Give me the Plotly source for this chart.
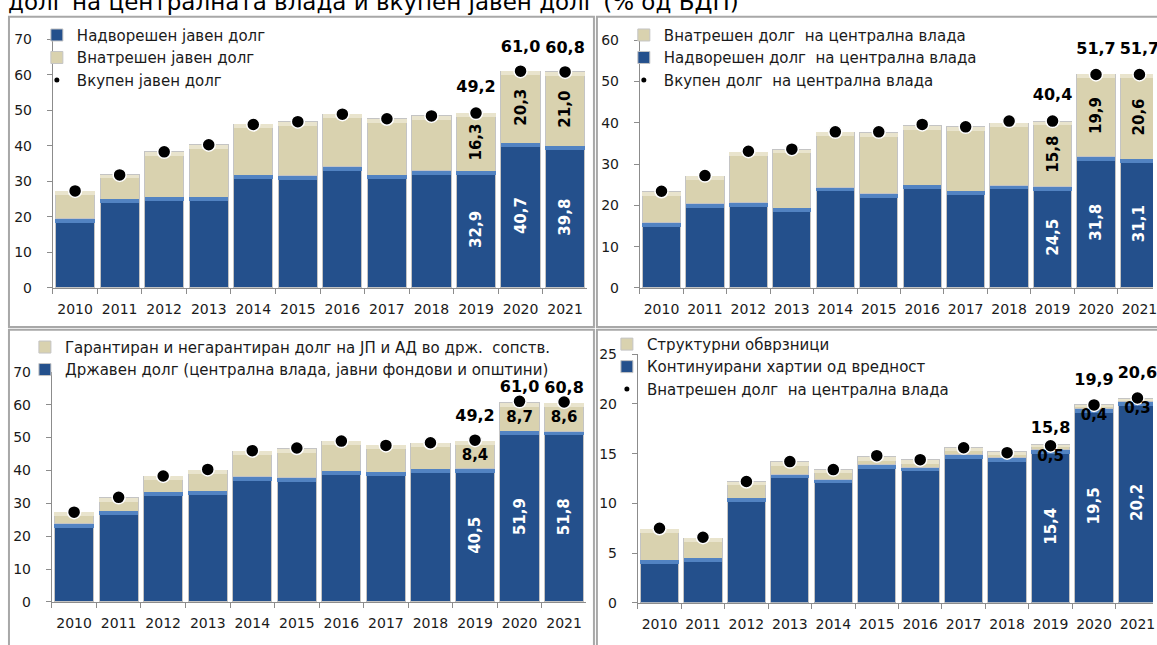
"""Public debt / central government debt of N. Macedonia, 2010-2021 (% of GDP) - four stacked bar panels."""
import plotly.graph_objects as go

W, H = 1157, 645
FONT = "DejaVu Sans"
BLUE = "#24508C"
BLUE_HI = "#5283C2"
BEIGE = "#D9D2AF"
BEIGE_HI = "#E9E4CD"
EDGE = "#C4C4C4"
AXIS = "#8C8C8C"
FRAME = "#A8A8A8"

years = [str(y) for y in range(2010, 2022)]

# panel 1 - public debt split external / domestic
pub_external = [19.4, 25.0, 25.5, 25.5, 31.7, 31.6, 34.1, 31.7, 33.0, 32.9, 40.7, 39.8]
pub_domestic = [7.8, 6.9, 12.8, 14.8, 14.3, 15.2, 14.8, 15.9, 15.4, 16.3, 20.3, 21.0]
pub_total = [27.3, 31.8, 38.3, 40.3, 46.0, 46.8, 48.9, 47.6, 48.4, 49.2, 61.0, 60.8]

# panel 2 - central government debt split domestic / external
cg_external = [15.8, 20.4, 20.6, 19.3, 24.3, 22.8, 24.9, 23.4, 24.8, 24.5, 31.8, 31.1]
cg_domestic = [7.5, 6.6, 12.2, 14.2, 13.4, 14.8, 14.4, 15.6, 15.1, 15.8, 19.9, 20.6]
cg_total = [23.4, 27.2, 33.1, 33.6, 37.8, 37.8, 39.6, 39.0, 40.4, 40.4, 51.7, 51.7]

# panel 3 - public debt split state debt / public enterprises
state_debt = [23.7, 27.5, 33.4, 33.6, 38.1, 37.8, 39.7, 39.4, 40.4, 40.5, 51.9, 51.8]
enterprise_debt = [3.5, 4.2, 4.8, 6.5, 7.7, 8.8, 9.1, 8.2, 7.8, 8.4, 8.7, 8.6]

# panel 4 - domestic central government debt split
continuous_sec = [4.3, 4.5, 10.5, 12.9, 12.4, 13.9, 13.6, 14.9, 14.6, 15.4, 19.5, 20.2]
structural_bonds = [3.1, 2.0, 1.7, 1.3, 1.0, 0.8, 0.8, 0.7, 0.6, 0.5, 0.4, 0.3]

LABELLED = 9  # only 2019-2021 carry value labels

# panel geometry in screen pixels: plot-area left/right, top/bottom, y max
panels = {
    "": dict(x=(53, 589), y=(32, 287), ymax=70, dtick=10, cat=44.7),
    "2": dict(x=(642, 1157), y=(33, 287), ymax=60, dtick=10, cat=43.6),
    "3": dict(x=(52, 588), y=(373, 609), ymax=70, dtick=10, cat=44.7),
    "4": dict(x=(640, 1157), y=(355, 610), ymax=25, dtick=5, cat=43.6),
}


def fmt(v):
    return f"{v:.1f}".replace(".", ",")


def last3(vals):
    return [f"<b>{fmt(v)}</b>" if i >= LABELLED else "" for i, v in enumerate(vals)]


def px_x(p):
    return p / W


def px_y(p):
    return 1 - p / H


def bar(vals, name, color, ax, legend, rank, angle=-90, tcolor="white", text=True):
    return go.Bar(
        x=years, y=vals, name=name, xaxis="x" + ax, yaxis="y" + ax,
        legend=legend, legendrank=rank, legendgroup=name,
        marker=dict(color=color, line=dict(color=EDGE, width=1)),
        text=last3(vals) if text else None, textposition="inside",
        insidetextanchor="middle", textangle=angle,
        textfont=dict(color=tcolor, size=15, family=FONT), hoverinfo="skip")


def bevel(bottoms, vals, ax, color, px=4):
    # light strip along the top of each segment, like the Excel bevel (base => drawn as overlay)
    p = panels[ax]
    unit = p["ymax"] / (p["y"][1] - p["y"][0])
    h = [min(px * unit, v * 0.5) for v in vals]
    tops = [b + v for b, v in zip(bottoms, vals)]
    return go.Bar(x=years, y=h, base=[t - d for t, d in zip(tops, h)], xaxis="x" + ax,
                  yaxis="y" + ax, marker=dict(color=color, line=dict(width=0)),
                  showlegend=False, hoverinfo="skip")


def dots(vals, ax):
    return go.Scatter(x=years, y=vals, xaxis="x" + ax, yaxis="y" + ax, mode="markers",
                      marker=dict(size=13, color="black", line=dict(color="white", width=1.5)),
                      showlegend=False, hoverinfo="skip")


def dot_key(name, ax, legend):
    # small legend-only proxy for the total marker
    return go.Scatter(x=[None], y=[None], xaxis="x" + ax, yaxis="y" + ax, mode="markers",
                      name=name, legend=legend, legendrank=3, legendgroup=name,
                      marker=dict(size=5, color="black"))


def lift_size(lift, fs=16):
    # invisible marker size that lifts a 'top center' label centre by `lift` px
    return max(1.6 * (lift - 0.61 * fs - 1), 0)


def top_labels(vals, ax, lifts):
    idx = list(range(LABELLED, len(years)))
    return go.Scatter(x=[years[i] for i in idx], y=[vals[i] for i in idx],
                      xaxis="x" + ax, yaxis="y" + ax, mode="markers+text",
                      text=[f"<b>{fmt(vals[i])}</b>" for i in idx], textposition="top center",
                      textfont=dict(family=FONT, size=16, color="black"),
                      marker=dict(size=[lift_size(v) for v in lifts], opacity=0),
                      cliponaxis=False, showlegend=False, hoverinfo="skip")


zeros = [0] * len(years)
fig = go.Figure()
# panel 1
fig.add_trace(bar(pub_external, "Надворешен јавен долг", BLUE, "", "legend", 1))
fig.add_trace(bar(pub_domestic, "Внатрешен јавен долг", BEIGE, "", "legend", 2, tcolor="black"))
fig.add_trace(bevel(zeros, pub_external, "", BLUE_HI))
fig.add_trace(bevel(pub_external, pub_domestic, "", BEIGE_HI))
fig.add_trace(dots(pub_total, ""))
fig.add_trace(dot_key("Вкупен јавен долг", "", "legend"))
fig.add_trace(top_labels(pub_total, "", [27, 25, 25]))
# panel 2
fig.add_trace(bar(cg_external, "Надворешен долг  на централна влада", BLUE, "2", "legend2", 2))
fig.add_trace(bar(cg_domestic, "Внатрешен долг  на централна влада", BEIGE, "2", "legend2", 1, tcolor="black"))
fig.add_trace(bevel(zeros, cg_external, "2", BLUE_HI))
fig.add_trace(bevel(cg_external, cg_domestic, "2", BEIGE_HI))
fig.add_trace(dots(cg_total, "2"))
fig.add_trace(dot_key("Вкупен долг  на централна влада", "2", "legend2"))
fig.add_trace(top_labels(cg_total, "2", [27, 26, 26]))
# panel 3
fig.add_trace(bar(state_debt, "Државен долг (централна влада, јавни фондови и општини)", BLUE, "3", "legend3", 2))
fig.add_trace(bar(enterprise_debt, "Гарантиран и негарантиран долг на ЈП и АД во држ.  сопств.", BEIGE, "3",
                  "legend3", 1, angle=0, tcolor="black"))
fig.add_trace(bevel(zeros, state_debt, "3", BLUE_HI))
fig.add_trace(bevel(state_debt, enterprise_debt, "3", BEIGE_HI))
fig.add_trace(dots(pub_total, "3"))
fig.add_trace(top_labels(pub_total, "3", [25, 15, 15]))
# panel 4
fig.add_trace(bar(continuous_sec, "Континуирани хартии од вредност", BLUE, "4", "legend4", 2))
fig.add_trace(bar(structural_bonds, "Структурни обврзници", BEIGE, "4", "legend4", 1, text=False))
fig.add_trace(bevel(zeros, continuous_sec, "4", BLUE_HI))
fig.add_trace(bevel(continuous_sec, structural_bonds, "4", BEIGE_HI))
fig.add_trace(dots(cg_domestic, "4"))
fig.add_trace(dot_key("Внатрешен долг  на централна влада", "4", "legend4"))
fig.add_trace(top_labels(cg_domestic, "4", [18, 26, 26]))
# structural bonds are too thin for inside text - hang the labels just under the segment
fig.add_trace(go.Scatter(
    x=years[LABELLED:], y=continuous_sec[LABELLED:], xaxis="x4", yaxis="y4", mode="text",
    text=last3(structural_bonds)[LABELLED:], textposition="bottom center",
    textfont=dict(family=FONT, size=15, color="black"), cliponaxis=False,
    showlegend=False, hoverinfo="skip"))

tickfont = dict(family=FONT, size=14, color="#1a1a1a")
for ax, p in panels.items():
    xr = -0.5 + (p["x"][1] - p["x"][0]) / p["cat"]
    fig.layout["xaxis" + ax] = dict(
        domain=[px_x(p["x"][0]), px_x(p["x"][1])], anchor="y" + ax, type="category",
        range=[-0.5, xr], tickson="boundaries", ticks="outside", ticklen=5, tickcolor=AXIS,
        tickangle=0, ticklabelstandoff=8, showline=True, linecolor=AXIS, showgrid=False,
        tickfont=tickfont, fixedrange=True)
    fig.layout["yaxis" + ax] = dict(
        domain=[px_y(p["y"][1]), px_y(p["y"][0])], anchor="x" + ax, range=[0, p["ymax"]],
        dtick=p["dtick"], ticks="outside", ticklen=5, tickcolor=AXIS, showline=True,
        ticklabelstandoff=12, linecolor=AXIS, showgrid=False, zeroline=False, tickfont=tickfont,
        fixedrange=True)

legend_base = dict(xanchor="left", yanchor="top", bgcolor="rgba(0,0,0,0)", traceorder="normal",
                   font=dict(family=FONT, size=15, color="#1a1a1a"), itemclick=False)
fig.update_layout(
    legend=dict(legend_base, x=px_x(37), y=px_y(11), tracegroupgap=0),
    legend2=dict(legend_base, x=px_x(626), y=px_y(11), tracegroupgap=0),
    legend3=dict(legend_base, x=px_x(25), y=px_y(331), tracegroupgap=1),
    legend4=dict(legend_base, x=px_x(609), y=px_y(328), tracegroupgap=0),
)

title = dict(x=px_x(6), y=px_y(9), xref="paper", yref="paper", xanchor="left",
             yanchor="bottom", showarrow=False,
             text="долг на централната влада и вкупен јавен долг (% од БДП)",
             font=dict(family=FONT, size=23, color="black"))

# panel frames
frames = [(9, 596, 9, 327), (599, 1175, 9, 327), (9, 596, 330, 660), (599, 1175, 330, 660)]
shapes = [dict(type="rect", xref="paper", yref="paper", x0=px_x(a), x1=px_x(b), y0=px_y(c), y1=px_y(d),
               line=dict(color=FRAME, width=2), layer="below") for a, b, c, d in frames]

fig.update_layout(
    width=W, height=H, margin=dict(l=0, r=0, t=0, b=0), barmode="stack", bargap=0.12,
    paper_bgcolor="white", plot_bgcolor="white", annotations=[title], shapes=shapes,
    font=dict(family=FONT), hovermode=False,
)
# the page body keeps its default 8px margin; drop it so the figure fills the window exactly
fig.write_html("out.html", config={"displayModeBar": False},
               post_script="document.body.style.margin='0';")
